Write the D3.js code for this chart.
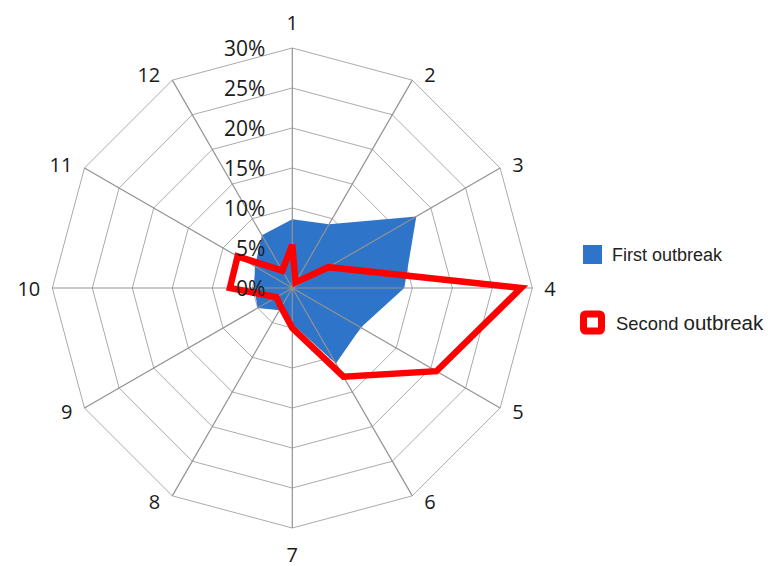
<!DOCTYPE html>
<html>
<head>
<meta charset="utf-8">
<script src="https://cdn.jsdelivr.net/npm/d3@7"></script>
<style>
  body { margin: 0; background: #fff; }
  svg { display: block; }
</style>
</head>
<body>
<div id="chart"></div>
<script>
// months (spokes), clockwise from the top
const months = ["1", "2", "3", "4", "5", "6", "7", "8", "9", "10", "11", "12"];
// share of cases per month, %
const firstOutbreak  = [8.6, 9.2, 17.9, 14.0, 9.9, 10.9, 4.5, 3.2, 5.0, 4.75, 5.4, 7.6];
const secondOutbreak = [5.4, 0.8, 5.2, 28.6, 20.8, 12.8, 5.0, 2.8, 2.3, 7.8, 7.9, 2.5];
const tickValues = [0, 5, 10, 15, 20, 25, 30];
const seriesNames = ["First outbreak", "Second outbreak"];

const width = 768, height = 566;
const cx = 292.3, cy = 288, R = 240;
const step = 2 * Math.PI / months.length;

const svg = d3.select("#chart").append("svg")
  .attr("width", width)
  .attr("height", height);

const r = d3.scaleLinear().domain([0, 30]).range([0, R]);

const g = svg.append("g").attr("transform", `translate(${cx},${cy})`);

const radial = d3.lineRadial()
  .angle((d, i) => i * step)
  .radius(d => r(d))
  .curve(d3.curveLinearClosed);

const pt = (i, v) => [Math.sin(i * step) * r(v), -Math.cos(i * step) * r(v)];

// rings
g.append("g").selectAll("path")
  .data(tickValues.filter(t => t > 0))
  .join("path")
  .attr("d", t => radial(months.map(() => t)))
  .attr("fill", "none")
  .attr("stroke", "#ababab")
  .attr("stroke-width", 1);

// first outbreak area
g.append("path")
  .attr("d", radial(firstOutbreak))
  .attr("fill", "#2e75c9");

// spokes
g.append("g").selectAll("line")
  .data(months)
  .join("line")
  .attr("x1", 0).attr("y1", 0)
  .attr("x2", (d, i) => pt(i, 30)[0])
  .attr("y2", (d, i) => pt(i, 30)[1])
  .attr("stroke", "#929292")
  .attr("stroke-width", 1.2);

// second outbreak line
g.append("path")
  .attr("d", radial(secondOutbreak))
  .attr("fill", "none")
  .attr("stroke", "#ff0000")
  .attr("stroke-width", 6.5)
  .attr("stroke-linejoin", "miter")
  .attr("stroke-miterlimit", 3);

// tick labels along the first spoke
g.append("g").selectAll("text")
  .data(tickValues)
  .join("text")
  .attr("x", -27)
  .attr("y", t => -r(t))
  .attr("text-anchor", "end")
  .attr("dominant-baseline", "central")
  .style("font-family", "'Open Sans', sans-serif")
  .style("font-size", "21px")
  .attr("fill", "#1a1a1a")
  .text(t => t + "%");

// month labels
g.append("g").selectAll("text")
  .data(months)
  .join("text")
  .each(function(d, i) {
    const s = Math.sin(i * step), c = Math.cos(i * step);
    const [x, y] = pt(i, 30);
    const t = d3.select(this);
    if (Math.abs(s) < 0.01) {
      t.attr("x", x).attr("y", y - c * 26).attr("text-anchor", "middle");
    } else {
      t.attr("x", x + (s > 0 ? 12 : -12))
       .attr("y", y - c * 7)
       .attr("text-anchor", s > 0 ? "start" : "end");
    }
  })
  .attr("dominant-baseline", "central")
  .style("font-family", "'Open Sans', sans-serif")
  .style("font-size", "20px")
  .attr("fill", "#1a1a1a")
  .text(d => d);

// legend
const legend = svg.append("g").style("font-family", "'Liberation Sans', Arial, sans-serif");
legend.append("rect")
  .attr("x", 583).attr("y", 245).attr("width", 19).attr("height", 19)
  .attr("fill", "#2e75c9");
legend.append("text")
  .attr("x", 612).attr("y", 255)
  .attr("dominant-baseline", "central")
  .style("font-size", "18px")
  .attr("fill", "#222")
  .text(seriesNames[0]);

legend.append("rect")
  .attr("x", 583.5).attr("y", 314).attr("width", 18).attr("height", 17)
  .attr("rx", 2)
  .attr("fill", "#fff")
  .attr("stroke", "#ff0000")
  .attr("stroke-width", 7);
const t2 = legend.append("text")
  .attr("x", 616).attr("y", 329.5)
  .attr("fill", "#222");
const parts = seriesNames[1].split(" ");
t2.append("tspan").style("font-size", "18.4px").text(parts[0] + " ");
t2.append("tspan").style("font-size", "20.5px").text(parts[1]);
</script>
</body>
</html>
